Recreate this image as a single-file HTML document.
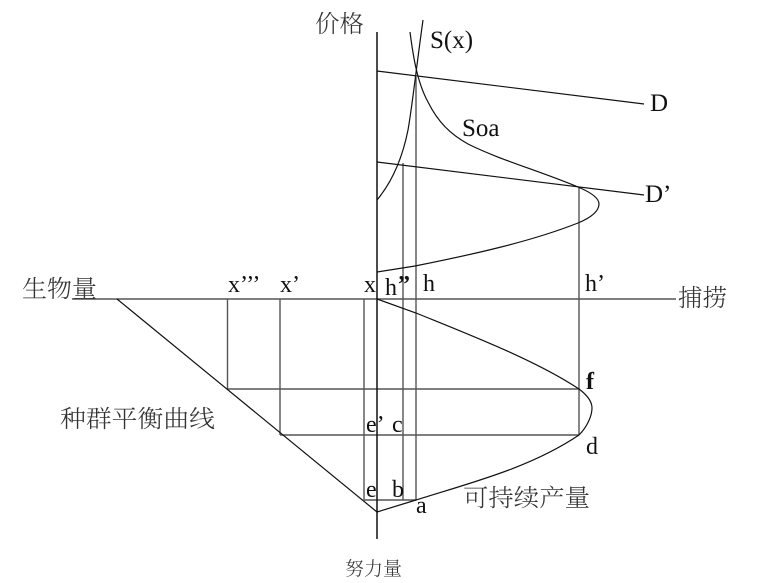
<!DOCTYPE html>
<html><head><meta charset="utf-8">
<style>
html,body{margin:0;padding:0;background:#fff;width:778px;height:583px;overflow:hidden}
svg{display:block}
text{font-family:"Liberation Serif","Noto Serif CJK SC",serif;fill:#111}
.c{font-family:"Liberation Serif","Noto Serif CJK SC",serif;fill:#333;font-size:24px;font-weight:300}
.l{font-size:24px}
</style></head><body>
<svg width="778" height="583" viewBox="0 0 778 583" xmlns="http://www.w3.org/2000/svg">
<g fill="none" stroke="#555" stroke-width="1.4">
<path d="M72 299H676"/>
<path d="M403 163V299M416 77V299M579 187V299"/>
<path d="M227.500 299V389M280 299V435M364 299V500M403 299V500M416 299V500M579 299V435"/>
<path d="M227.500 389H579M280 435H579M364 500H416"/>
</g>
<g fill="none" stroke="#111" stroke-width="1.2">
<path d="M377 32V539" stroke-width="1.5"/>
<path d="M377 71L644 104M377 162L644 195"/>
<path d="M377 200C392 182 402 160 408 130C412 108 416 70 423 20"/>
<path d="M410 32C413 55 417 82 428 102C438 122 450 134 468 144C500 160 540 171 578 187C590 192 599 198 599 204C599 212 590 218 578 223C530 242 470 255 415 266L377 272"/>
<path d="M377 299L416 313C470 335 535 360 579 389C587 395 592 401 592 408C592 416 587 427 579 435C530 468 470 483 416 500L377 512"/>
<path d="M117 299L377 512"/>
</g>
<text class="c" x="315" y="32" textLength="49" lengthAdjust="spacingAndGlyphs">价格</text>
<text x="430" y="48" font-size="25">S(x)</text>
<text x="650" y="111" font-size="25">D</text>
<text x="462" y="136" font-size="25">Soa</text>
<text x="645" y="202" font-size="25">D’</text>
<text class="c" x="22" y="297" textLength="75" lengthAdjust="spacingAndGlyphs">生物量</text>
<text class="c" x="678" y="306" textLength="49" lengthAdjust="spacingAndGlyphs">捕捞</text>
<text class="l" x="228" y="292">x’’’</text>
<text class="l" x="280" y="292">x’</text>
<text class="l" x="364" y="292">x</text>
<text class="l" x="385" y="295">h<tspan font-weight="bold" x="398" y="292">”</tspan></text>
<text class="l" x="423" y="291">h</text>
<text class="l" x="585" y="291">h’</text>
<text class="l" x="586" y="389" font-weight="bold">f</text>
<text class="l" x="586" y="454">d</text>
<text class="l" x="366" y="432">e’</text>
<text class="l" x="392" y="432">c</text>
<text class="l" x="366" y="497">e</text>
<text class="l" x="392" y="497">b</text>
<text class="l" x="416" y="513">a</text>
<text class="c" x="60" y="427" textLength="155" lengthAdjust="spacingAndGlyphs">种群平衡曲线</text>
<text class="c" x="463" y="506" textLength="127" lengthAdjust="spacingAndGlyphs">可持续产量</text>
<text class="c" x="345" y="575" style="font-size:19px" textLength="57" lengthAdjust="spacingAndGlyphs">努力量</text>
</svg>
</body></html>
